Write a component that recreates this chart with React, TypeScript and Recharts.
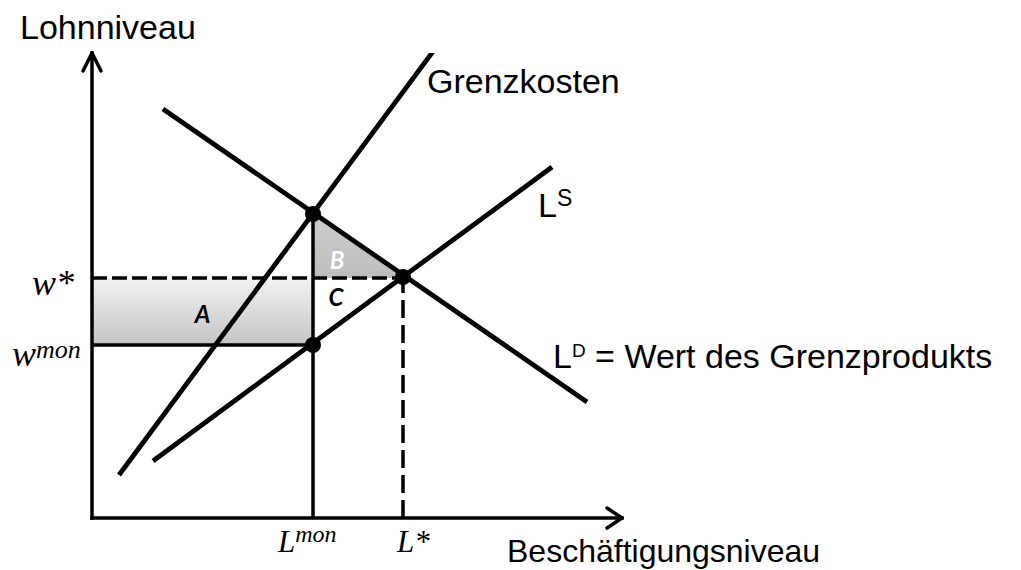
import React from "react";
import { ComposedChart, XAxis, YAxis, Line, Scatter, Area, ReferenceLine, ReferenceArea, ReferenceDot } from "recharts";

// Koordinaten in "Diagrammeinheiten" (Beschäftigung, Lohn)
const grenzkosten = [{ x: 27, y: 43 }, { x: 348, y: 476 }];
const angebot = [{ x: 61, y: 57 }, { x: 460, y: 351 }];
const nachfrage = [{ x: 71, y: 409 }, { x: 495, y: 116 }];
const punkte = [{ x: 221, y: 304 }, { x: 311, y: 241 }, { x: 221, y: 173 }];
const dreieckB = [{ x: 221, range: [240, 304] }, { x: 311, range: [240, 240] }];

const L_MON = 221;
const L_STAR = 311;
const W_STAR = 240;
const W_MON = 173;
const X_MAX = 530;
const Y_MAX = 465;

const sans = "'Liberation Sans', Arial, sans-serif";
const serif = "'Liberation Serif', 'Times New Roman', serif";
const calib = "Lato, 'Open Sans', sans-serif";

const abc = { fontSize: 24, fontWeight: 700, fontStyle: "italic", fontFamily: calib };

// Achsenbeschriftungen (L^mon, L*, w*, w^mon) an den Positionen der Skala
const lMonLabel = (p: any) => (
  <text x={p.viewBox.x - 35} y={p.viewBox.y + 34} fontFamily={serif} fontStyle="italic" fontSize={31} fill="#000">
    <tspan>L</tspan>
    <tspan fontSize={24} dy={-10}>mon</tspan>
  </text>
);
const lStarLabel = (p: any) => (
  <text x={p.viewBox.x - 6} y={p.viewBox.y + 34} fontFamily={serif} fontStyle="italic" fontSize={31} fill="#000">L*</text>
);
const wMonLabel = (p: any) => (
  <text x={p.viewBox.x - 80} y={p.viewBox.y + 21} fontFamily={serif} fontStyle="italic" fontSize={36} fill="#000">
    <tspan>w</tspan>
    <tspan fontSize={26} dy={-8}>mon</tspan>
  </text>
);
const wStarLabel = (p: any) => (
  <text x={p.viewBox.x - 60} y={p.viewBox.y + 17} fontFamily={serif} fontStyle="italic" fontSize={36} fill="#000">w*</text>
);

export default function App() {
  const seg = (a: [number, number], b: [number, number]) => [{ x: a[0], y: a[1] }, { x: b[0], y: b[1] }];
  return (
    <div style={{ position: "fixed", left: 0, top: 0, width: 1021, height: 570, background: "#fff" }}>
      <ComposedChart width={1021} height={570} margin={{ top: 53, right: 399, bottom: 52, left: 92 }}>
        <defs>
          <linearGradient id="gradA" x1="0" y1="0" x2="0" y2="1">
            <stop offset="0%" stopColor="#f3f3f3" />
            <stop offset="100%" stopColor="#c4c4c4" />
          </linearGradient>
          <linearGradient id="gradB" x1="0" y1="0" x2="0" y2="1">
            <stop offset="0%" stopColor="#cdcdcd" />
            <stop offset="100%" stopColor="#bdbdbd" />
          </linearGradient>
        </defs>
        <XAxis type="number" dataKey="x" domain={[0, X_MAX]} hide allowDataOverflow />
        <YAxis type="number" dataKey="y" domain={[0, Y_MAX]} hide allowDataOverflow />

        <ReferenceArea x1={0} x2={L_MON} y1={W_MON} y2={W_STAR} fill="url(#gradA)" fillOpacity={1} stroke="none"
          label={{ value: "A", position: "center", fill: "#000", dy: 3, ...abc }} />
        <Area data={dreieckB} dataKey="range" type="linear" fill="url(#gradB)" fillOpacity={1} stroke="none" isAnimationActive={false} />

        {/* Achsen */}
        <ReferenceLine segment={seg([0, 0], [X_MAX, 0])} stroke="#000" strokeWidth={3.5} strokeLinecap="square" ifOverflow="visible" />
        <ReferenceLine segment={seg([0, 0], [0, Y_MAX])} stroke="#000" strokeWidth={3.5} strokeLinecap="square" ifOverflow="visible" />
        <ReferenceLine segment={seg([-9, 447], [0, Y_MAX])} stroke="#000" strokeWidth={3.5} strokeLinecap="round" ifOverflow="visible" />
        <ReferenceLine segment={seg([9, 447], [0, Y_MAX])} stroke="#000" strokeWidth={3.5} strokeLinecap="round" ifOverflow="visible" />
        <ReferenceLine segment={seg([515, 10], [X_MAX, 0])} stroke="#000" strokeWidth={3.5} strokeLinecap="round" ifOverflow="visible" />
        <ReferenceLine segment={seg([515, -10], [X_MAX, 0])} stroke="#000" strokeWidth={3.5} strokeLinecap="round" ifOverflow="visible" />

        {/* Hilfslinien */}
        <ReferenceLine segment={seg([0, W_STAR], [L_STAR, W_STAR])} stroke="#000" strokeWidth={3.5} strokeDasharray="15 5" ifOverflow="visible" />
        <ReferenceLine segment={seg([0, W_MON], [L_MON, W_MON])} stroke="#000" strokeWidth={3.5} ifOverflow="visible" />
        <ReferenceLine segment={seg([L_MON, 0], [L_MON, 304])} stroke="#000" strokeWidth={3.5} ifOverflow="visible" />
        <ReferenceLine segment={seg([L_STAR, 0], [L_STAR, 241])} stroke="#000" strokeWidth={3.5} strokeDasharray="18 7" ifOverflow="visible" />

        <Line data={grenzkosten} dataKey="y" type="linear" stroke="#000" strokeWidth={4.8} dot={false} activeDot={false} isAnimationActive={false} />
        <Line data={angebot} dataKey="y" type="linear" stroke="#000" strokeWidth={4.8} dot={false} activeDot={false} isAnimationActive={false} />
        <Line data={nachfrage} dataKey="y" type="linear" stroke="#000" strokeWidth={4.8} dot={false} activeDot={false} isAnimationActive={false} />

        <Scatter data={punkte} dataKey="y" isAnimationActive={false}
          shape={(p: any) => <circle cx={p.cx} cy={p.cy} r={8} fill="#000" />} />

        <ReferenceDot x={245} y={258} r={0} fill="none" stroke="none" ifOverflow="visible"
          label={{ value: "B", position: "center", fill: "#fff", ...abc }} />
        <ReferenceDot x={244} y={221} r={0} fill="none" stroke="none" ifOverflow="visible"
          label={{ value: "C", position: "center", fill: "#000", ...abc }} />

        <ReferenceDot x={L_MON} y={0} r={0} fill="none" stroke="none" ifOverflow="visible" label={lMonLabel} />
        <ReferenceDot x={L_STAR} y={0} r={0} fill="none" stroke="none" ifOverflow="visible" label={lStarLabel} />
        <ReferenceDot x={0} y={W_MON} r={0} fill="none" stroke="none" ifOverflow="visible" label={wMonLabel} />
        <ReferenceDot x={0} y={W_STAR} r={0} fill="none" stroke="none" ifOverflow="visible" label={wStarLabel} />

        <text x={20} y={39} fontFamily={sans} fontSize={34} fill="#000">Lohnniveau</text>
        <text x={427} y={93} fontFamily={sans} fontSize={34} fill="#000">Grenzkosten</text>
        <text x={538} y={217} fontFamily={sans} fontSize={34} fill="#000">
          <tspan>L</tspan>
          <tspan fontSize={23} dy={-11}>S</tspan>
        </text>
        <text x={553} y={368} fontFamily={sans} fontSize={34} fill="#000">
          <tspan>L</tspan>
          <tspan fontSize={19} dy={-11}>D</tspan>
          <tspan dy={11}> = Wert des Grenzprodukts</tspan>
        </text>
        <text x={507} y={562} fontFamily={sans} fontSize={32} fill="#000">Beschäftigungsniveau</text>
      </ComposedChart>
    </div>
  );
}
